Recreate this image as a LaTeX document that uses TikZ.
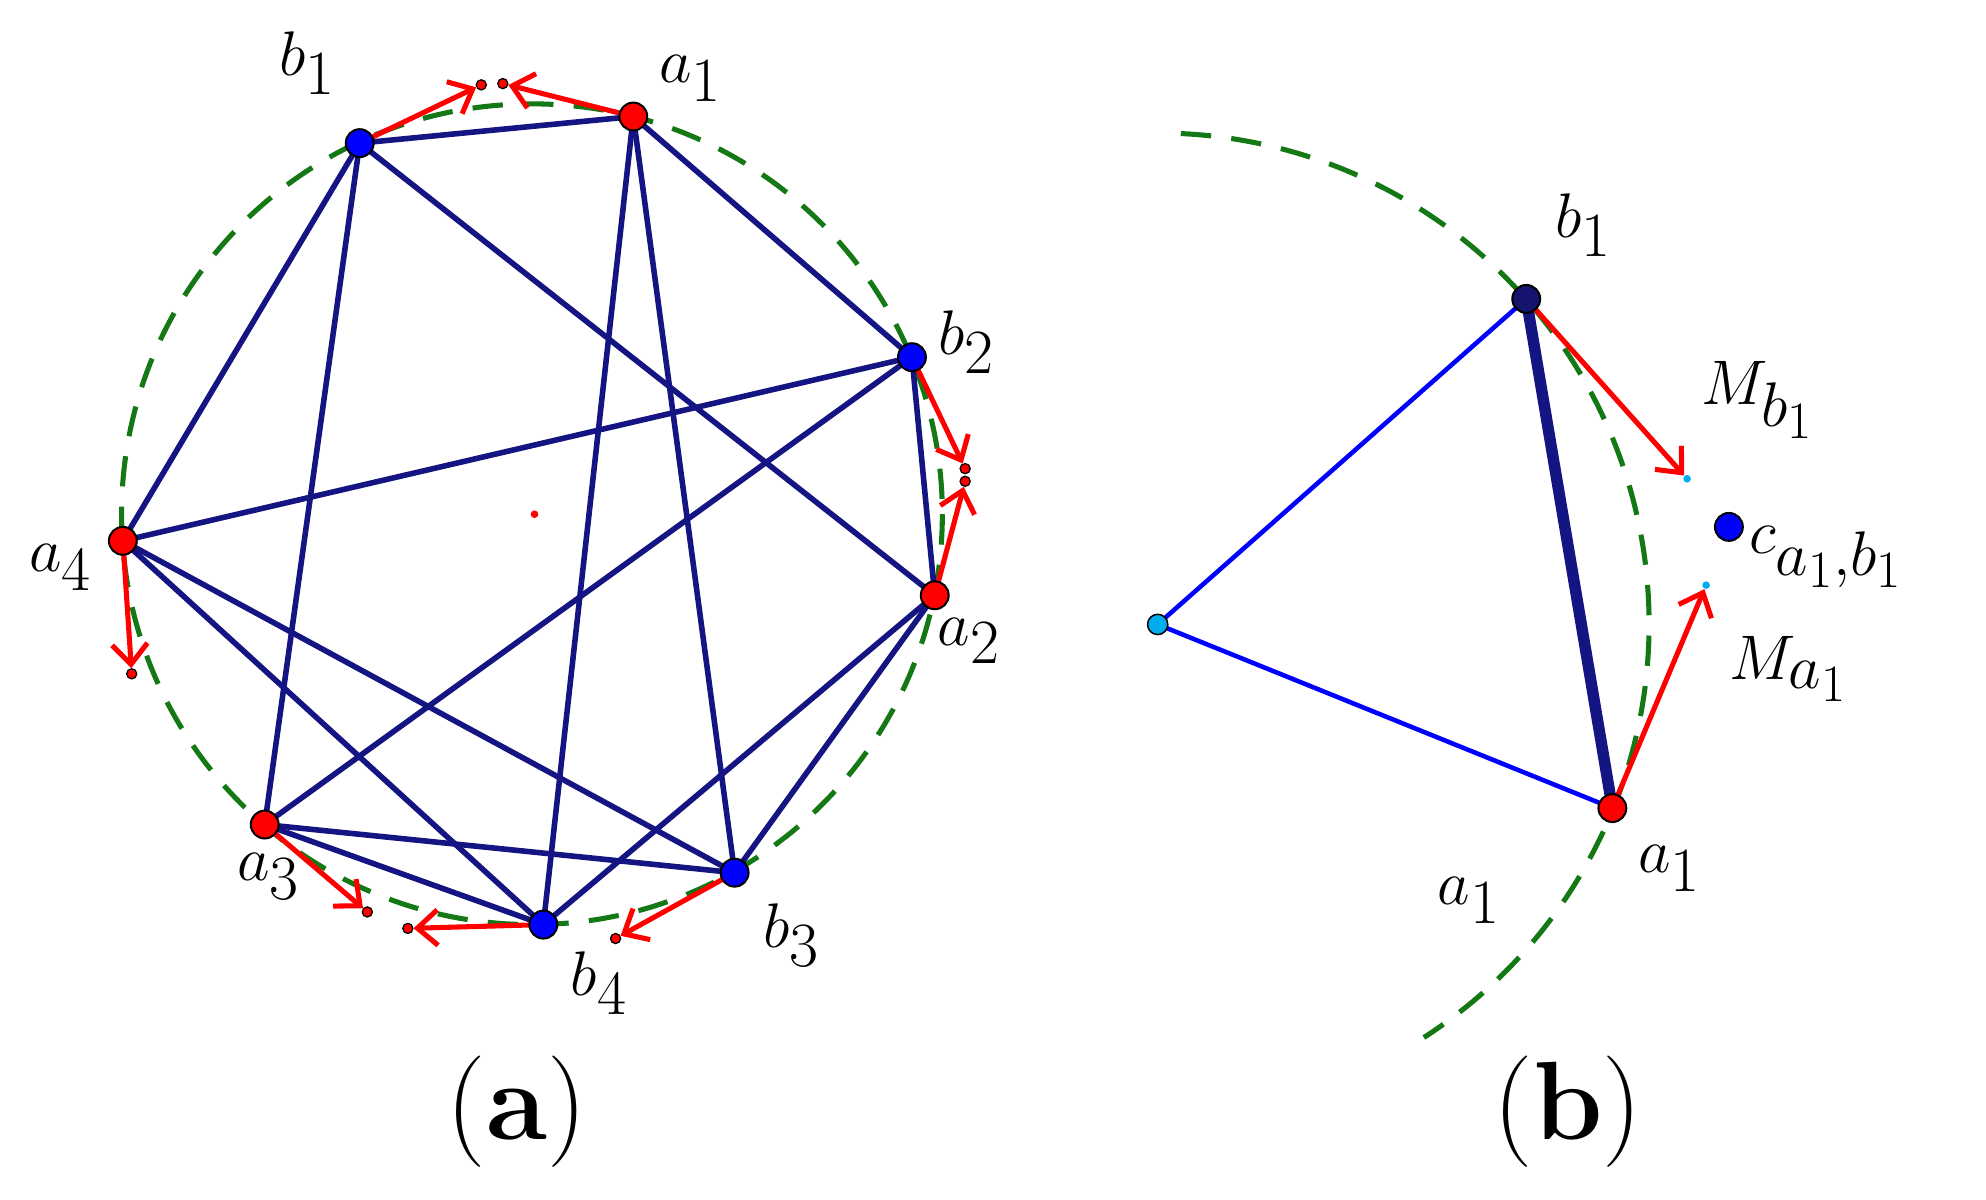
\documentclass[tikz,border=0pt]{standalone}
\usetikzlibrary{arrows.meta}
\begin{document}
\begin{tikzpicture}[x=0.5pt,y=-0.5pt,
  edge/.style={draw={rgb,255:red,20;green,20;blue,130},line width=2.2pt},
  vec/.style={draw=red,line width=2pt,-{Straight Barb[length=8pt,width=14pt,line width=2pt]}},
  rn/.style={circle,draw=black,fill=red,inner sep=0pt,minimum size=11pt,line width=0.8pt},
  bn/.style={circle,draw=black,fill=blue,inner sep=0pt,minimum size=11pt,line width=0.8pt},
  tip/.style={circle,draw=black,fill=red,inner sep=0pt,minimum size=4pt,line width=0.5pt},
  ctip/.style={circle,fill=cyan,inner sep=0pt,minimum size=3pt},
  lab/.style={font=\fontsize{44}{50}\selectfont},
  green dash/.style={draw={rgb,255:red,20;green,120;blue,20},line width=2pt,dash pattern=on 12pt off 8pt}]
\useasboundingbox (0,0) rectangle (1568,947);
% panel a
\draw[green dash] (420,406) circle (324);
\node[circle,fill=red,inner sep=0pt,minimum size=3pt] (o) at (422,406) {};
\coordinate (b1) at (284,113); \coordinate (a1) at (500,92);
\coordinate (b2) at (720,282); \coordinate (a2) at (738,470);
\coordinate (b3) at (580,689); \coordinate (b4) at (429,730);
\coordinate (a3) at (209,651); \coordinate (a4) at (97,427);
\foreach \u/\v in {a1/b1,a1/b2,a1/b3,a1/b4,a2/b1,a2/b2,a2/b3,a2/b4,a3/b1,a3/b2,a3/b3,a3/b4,a4/b1,a4/b2,a4/b3,a4/b4}
  \draw[edge] (\u) -- (\v);
\node[tip] (tb1) at (380,67) {}; \node[tip] (ta1) at (397,66) {};
\node[tip] (tb2) at (762,370) {}; \node[tip] (ta2) at (762,380) {};
\node[tip] (ta4) at (104,532) {}; \node[tip] (ta3) at (290,720) {};
\node[tip] (tb4) at (322,733) {}; \node[tip] (tb3) at (486,741) {};
\foreach \p in {a1,a2,a3,a4,b1,b2,b3,b4} \draw[vec] (\p) -- (t\p);
\foreach \p in {a1,a2,a3,a4} \node[rn] (n\p) at (\p) {};
\foreach \p in {b1,b2,b3,b4} \node[bn] (n\p) at (\p) {};
\node[lab] (lb1) at (243,50) {$b_1$};
\node[lab] (la1) at (545,62) {$a_1$};
\node[lab] (lb2) at (763,270) {$b_2$};
\node[lab] (la2) at (765,506) {$a_2$};
\node[lab] (lb3) at (625,738) {$b_3$};
\node[lab] (lb4) at (473,776) {$b_4$};
\node[lab] (la3) at (212,692) {$a_3$};
\node[lab] (la4) at (48,448) {$a_4$};
\node[lab] (capa) at (408,878) {(\textbf{a})};
% panel b
\coordinate (c) at (914,493);
\draw[green dash] (c) ++(-87.3:388) arc[start angle=-87.3,end angle=57.2,radius=388];
\coordinate (B1) at (1205,236); \coordinate (A1) at (1273,638);
\draw[blue,line width=1.8pt] (c) -- (B1);
\draw[blue,line width=1.8pt] (c) -- (A1);
\draw[draw={rgb,255:red,20;green,20;blue,130},line width=4.5pt] (B1) -- (A1);
\node[ctip] (mb) at (1332,378) {}; \node[ctip] (ma) at (1347,462) {};
\draw[vec] (B1) -- (mb);
\draw[vec] (A1) -- (ma);
\node[circle,draw=black,fill=cyan,inner sep=0pt,minimum size=8pt,line width=0.6pt] (cc) at (c) {};
\node[circle,draw=black,fill={rgb,255:red,20;green,20;blue,110},inner sep=0pt,minimum size=11pt,line width=0.8pt] (nB1) at (B1) {};
\node[rn] (nA1) at (A1) {};
\node[bn] (cab) at (1365,416) {};
\node[lab] (lB1) at (1250,178) {$b_1$};
\node[lab] (lMb) at (1388,316) {$M_{b_1}$};
\node[lab,anchor=west] (lc) at (1374,440) {$c_{a_1,b_1}$};
\node[lab] (lMa) at (1412,528) {$M_{a_1}$};
\node[lab] (lA1) at (1318,686) {$a_1$};
\node[lab] (lA1b) at (1160,711) {$a_1$};
\node[lab] (capb) at (1238,878) {(\textbf{b})};
\end{tikzpicture}
\end{document}
